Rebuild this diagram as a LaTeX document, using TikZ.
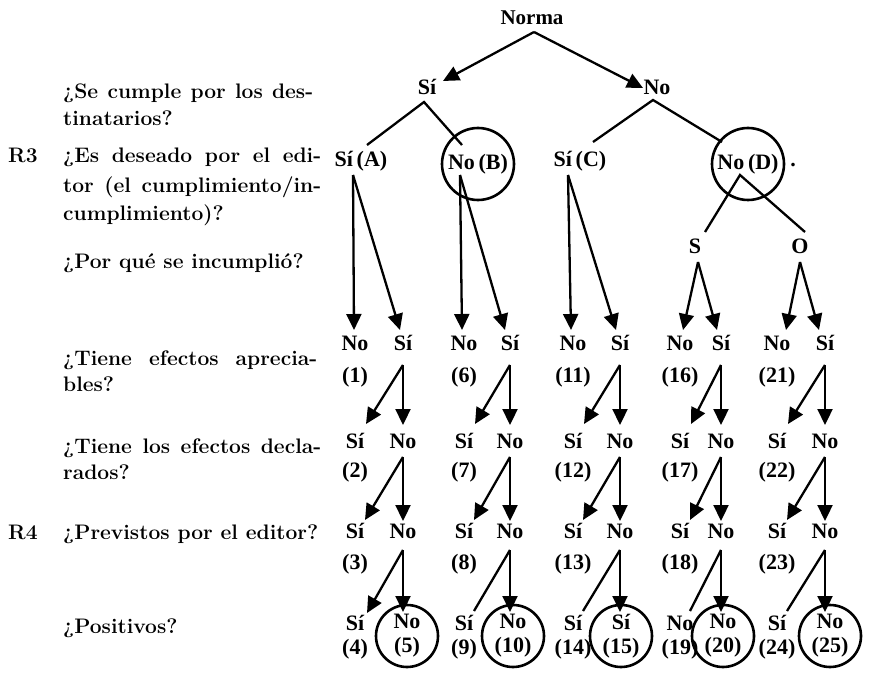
\documentclass[tikz,border=0pt]{standalone}
\usepackage{fontspec}
\newfontfamily\tfam{Liberation Serif}
\usetikzlibrary{arrows.meta}
\tikzset{
  tl/.style={font=\tfam\bfseries\fontsize{22}{24}\selectfont, inner sep=0pt, anchor=base},
  ql/.style={font=\bfseries\fontsize{21}{24}\selectfont, inner sep=0pt, anchor=base west},
  ln/.style={line width=2.3pt},
  arr/.style={line width=2.3pt, -{Triangle[length=16pt,width=15pt]}},
  ring/.style={tl, circle, draw, line width=2.6pt, align=center, anchor=center},
}
\begin{document}
\begin{tikzpicture}[x=1pt,y=-1pt]
\useasboundingbox (0,0) rectangle (869,676);
% questions
\node[ql] (q1a) at (63,99) {\makebox[250pt][s]{¿Se cumple por los des-}};
\node[ql] (q1b) at (63,126) {tinatarios?};
\node[ql] (r3) at (8,163) {R3};
\node[ql] (q2a) at (63,163) {\makebox[258pt][s]{¿Es deseado por el edi-}};
\node[ql] (q2b) at (63,193) {\makebox[258pt][s]{tor (el cumplimiento/in-}};
\node[ql] (q2c) at (63,221) {cumplimiento)?};
\node[ql] (q3) at (63,268) {¿Por qué se incumplió?};
\node[ql] (q4a) at (63,365) {\makebox[254pt][s]{¿Tiene efectos aprecia-}};
\node[ql] (q4b) at (63,391) {bles?};
\node[ql] (q5a) at (63,453) {\makebox[258pt][s]{¿Tiene los efectos decla-}};
\node[ql] (q5b) at (63,479) {rados?};
\node[ql] (r4) at (8,539) {R4};
\node[ql] (q6) at (63,539) {¿Previstos por el editor?};
\node[ql] (q7) at (63,633) {¿Positivos?};
% top of tree
\node[tl, font=\tfam\bfseries\fontsize{21}{24}\selectfont] (norma) at (532,25) {Norma};
\node[tl] (si1) at (427,95) {Sí};
\node[tl] (no1) at (657,95) {No};
\draw[arr] ([shift={(2,7)}]norma.base) -- ([shift={(16,-14)}]si1.base);
\draw[arr] ([shift={(2,7)}]norma.base) -- ([shift={(-14,-7)}]no1.base);
% second level
\node[tl] (sA) at (361,167) {Sí\,(A)};
\node[ring, minimum size=72pt] (nB) at (478,164) {No\,(B)};
\node[tl] (sC) at (580,167) {Sí\,(C)};
\node[ring, minimum size=72pt] (nD) at (748,164) {No\,(D)};
\node[tl] (dot) at (793,167) {.};
\draw[ln] ([shift={(6,-22)}]sA.base) -- ([shift={(-3,7)}]si1.base) -- ([shift={(-16,-19)}]nB.center);
\draw[ln] ([shift={(13,-25)}]sC.base) -- ([shift={(-4,5)}]no1.base) -- ([shift={(-26,-22)}]nD.center);
\node[tl] (sS) at (695,254) {S};
\node[tl] (oO) at (800,254) {O};
\draw[ln] ([shift={(10,-22)}]sS.base) -- ([shift={(-8,11)}]nD.center) -- ([shift={(5,-22)}]oO.base);
\coordinate (apA) at ([shift={(-8,8)}]sA.base);
\coordinate (apB) at ([shift={(-18,11)}]nB.center);
\coordinate (apC) at ([shift={(-12,8)}]sC.base);
\coordinate (apS) at ([shift={(3,8)}]sS.base);
\coordinate (apO) at ([shift={(0,8)}]oO.base);
% five branches
\foreach \g/\xl/\xr/\xc/\na/\nb/\nc/\nd/\ne/\tL/\tR/\src/\dl/\dr in {
 1/355/403/407/1/2/3/4/5/Sí/No/apA/-1/-3,
 2/464/510/513/6/7/8/9/10/Sí/No/apB/-2/-5,
 3/573/620/621/11/12/13/14/15/Sí/Sí/apC/-2/-4,
 4/680/721/723/16/17/18/19/20/No/No/apS/3/-4,
 5/777/825/830/21/22/23/24/25/Sí/No/apO/9/-6}
{
 \node[tl] (L3\g) at (\xl,350) {No};
 \node[tl] (R3\g) at (\xr,350) {Sí};
 \node[tl] (N3\g) at (\xl,382) {(\na)};
 \node[tl] (L4\g) at (\xl,448) {Sí};
 \node[tl] (R4\g) at (\xr,448) {No};
 \node[tl] (N4\g) at (\xl,477) {(\nb)};
 \node[tl] (L5\g) at (\xl,538) {Sí};
 \node[tl] (R5\g) at (\xr,538) {No};
 \node[tl] (N5\g) at (\xl,569) {(\nc)};
 \node[tl] (L6\g) at (\xl,630) {\tL};
 \node[tl] (N6\g) at (\xl,654) {(\nd)};
 \node[ring, minimum size=62pt] (K\g) at (\xc,636) {\tR\\(\ne)};
 \draw[arr] (\src) -- ([shift={(\dl,-20)}]L3\g.base);
 \draw[arr] (\src) -- ([shift={(\dr,-20)}]R3\g.base);
 \draw[arr] ([shift={(0,15)}]R3\g.base) -- ([shift={(11,-24)}]L4\g.base);
 \draw[arr] ([shift={(0,15)}]R3\g.base) -- ([shift={(0,-23)}]R4\g.base);
 \draw[arr] ([shift={(0,9)}]R4\g.base) -- ([shift={(10,-18)}]L5\g.base);
 \draw[arr] ([shift={(0,9)}]R4\g.base) -- ([shift={(0,-17)}]R5\g.base);
 \ifnum\g=1
  \draw[arr] ([shift={(0,12)}]R5\g.base) -- ([shift={(12,-17)}]L6\g.base);
 \else
  \draw[ln] ([shift={(0,12)}]R5\g.base) -- ([shift={(10,-19)}]L6\g.base);
 \fi
 \draw[arr] ([shift={(0,12)}]R5\g.base) -- ([shift={(0,74)}]R5\g.base);
}
\end{tikzpicture}
\end{document}
